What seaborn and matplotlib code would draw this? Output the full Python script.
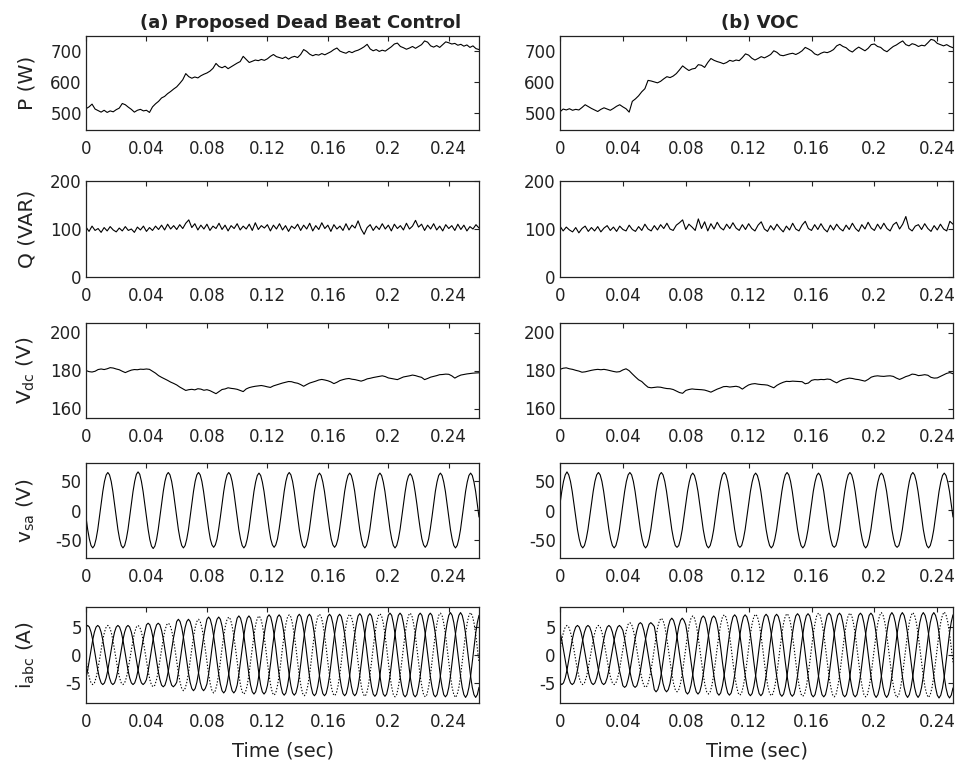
import numpy as np
import matplotlib
matplotlib.use("Agg")
import matplotlib.pyplot as plt
import seaborn as sns

# ---------------------------------------------------------------------------
# Sample steps
# ---------------------------------------------------------------------------
DT_SLOW = 0.002        # P, Q and Vdc traces
DT_WAVE = 1.0 / 900.0  # ac waveforms, 18 samples per 50 Hz cycle

col_titles = ["(a) Proposed Dead Beat Control", "(b) VOC"]
x_limits = [0.26, 0.25]
x_ticks = [0, 0.04, 0.08, 0.12, 0.16, 0.2, 0.24]
x_tick_labels = ["0", "0.04", "0.08", "0.12", "0.16", "0.2", "0.24"]
y_labels = ["P (W)", "Q (VAR)", r"V$_{\mathrm{dc}}$ (V)", r"v$_{\mathrm{sa}}$ (V)",
            r"i$_{\mathrm{abc}}$ (A)"]
y_ticks = [[500, 600, 700], [0, 100, 200], [160, 180, 200], [-50, 0, 50], [-5, 0, 5]]
y_limits = [(445, 750), (0, 200), (155, 205), (-80, 80), (-8.6, 8.6)]

# ---------------------------------------------------------------------------
# (a) dead-beat control
# ---------------------------------------------------------------------------
p_dbc = [514, 520, 529, 513, 508, 503, 509, 502, 507, 504,
         511, 516, 531, 527, 519, 512, 503, 509, 512, 507,
         509, 502, 520, 530, 538, 549, 554, 563, 570, 578,
         585, 596, 608, 628, 618, 613, 617, 614, 621, 626,
         630, 636, 645, 661, 651, 647, 652, 644, 650, 656,
         662, 667, 684, 674, 664, 668, 672, 670, 674, 671,
         676, 684, 690, 683, 680, 677, 682, 675, 681, 684,
         680, 690, 706, 700, 691, 686, 690, 688, 693, 689,
         694, 699, 706, 711, 701, 697, 694, 700, 696, 701,
         704, 709, 715, 723, 708, 702, 706, 700, 704, 701,
         708, 715, 724, 727, 716, 712, 707, 711, 716, 710,
         716, 722, 734, 730, 718, 714, 719, 713, 722, 731,
         728, 724, 726, 720, 723, 717, 721, 713, 718, 709, 706]

q_dbc = [104, 95, 106, 97, 101, 93, 103, 96, 105, 98,
         94, 102, 96, 105, 97, 100, 93, 104, 98, 106,
         95, 103, 97, 106, 99, 108, 98, 110, 100, 107,
         99, 109, 101, 112, 119, 103, 111, 98, 108, 100,
         110, 97, 106, 101, 112, 99, 108, 96, 107, 101,
         111, 98, 106, 100, 110, 97, 113, 99, 107, 102,
         109, 96, 108, 100, 111, 98, 107, 95, 106, 101,
         110, 97, 108, 100, 112, 96, 107, 99, 113, 101,
         108, 95, 109, 100, 106, 97, 111, 98, 108, 102,
         117, 100, 89, 103, 109, 97, 106, 99, 111, 100,
         108, 96, 110, 101, 107, 98, 112, 100, 106, 118,
         104, 110, 97, 108, 100, 111, 98, 106, 96, 109,
         101, 107, 97, 110, 99, 108, 96, 105, 100, 109, 102]

vdc_dbc = [180.0, 179.4, 179.2, 179.6, 180.5, 180.8, 180.5, 180.9, 181.5, 181.3,
           180.8, 180.4, 179.6, 178.9, 179.6, 180.2, 180.5, 180.4, 180.7, 180.6,
           180.8, 180.6, 179.6, 178.6, 177.3, 176.4, 175.6, 174.8, 173.9, 173.2,
           172.4, 171.3, 170.4, 169.5, 169.9, 170.1, 169.8, 170.4, 170.2, 169.6,
           169.9, 169.4, 168.6, 167.8, 168.9, 170.0, 170.3, 170.9, 170.6, 170.4,
           170.1, 169.5, 168.9, 170.3, 171.0, 171.4, 171.7, 171.9, 172.1, 171.8,
           171.4, 171.1, 171.9, 172.4, 172.9, 173.4, 173.8, 174.2, 174.1, 173.6,
           173.3, 172.6, 171.7, 172.6, 173.4, 173.9, 174.4, 175.0, 175.3, 175.0,
           174.6, 174.0, 173.1, 173.8, 174.7, 175.2, 175.6, 175.8, 175.4, 175.2,
           174.8, 174.4, 174.9, 175.6, 175.9, 176.3, 176.6, 176.9, 177.2, 176.8,
           176.1, 175.8, 175.5, 175.2, 175.9, 176.6, 176.9, 177.2, 177.6, 177.3,
           176.8, 176.4, 175.2, 175.8, 176.5, 176.9, 177.3, 177.8, 177.9, 178.1,
           178.0, 177.2, 176.0, 176.9, 177.6, 177.9, 178.2, 178.4, 178.6, 178.7, 178.8]

vsa_dbc = [
    -11, -32, -48, -59, -63, -59, -48, -32, -11, 11, 32, 49, 60, 64, 60, 49, 32, 11,
    -11, -32, -48, -59, -63, -59, -48, -32, -11, 11, 32, 49, 61, 65, 61, 49, 32, 11,
    -11, -32, -49, -60, -64, -60, -49, -32, -11, 11, 32, 49, 60, 64, 60, 49, 32, 11,
    -11, -32, -48, -59, -63, -59, -48, -32, -11, 11, 32, 49, 60, 64, 60, 49, 32, 11,
    -11, -31, -48, -58, -62, -58, -48, -31, -11, 11, 32, 49, 60, 64, 60, 49, 32, 11,
    -11, -32, -48, -59, -63, -59, -48, -32, -11, 11, 32, 48, 59, 63, 59, 48, 32, 11,
    -11, -31, -48, -58, -62, -58, -48, -31, -11, 11, 32, 49, 60, 64, 60, 49, 32, 11,
    -11, -32, -48, -59, -63, -59, -48, -32, -11, 11, 32, 48, 59, 63, 59, 48, 32, 11,
    -11, -31, -48, -58, -62, -58, -48, -31, -11, 11, 32, 48, 59, 63, 59, 48, 32, 11,
    -11, -32, -48, -59, -63, -59, -48, -32, -11, 11, 32, 48, 59, 63, 59, 48, 32, 11,
    -11, -32, -48, -59, -63, -59, -48, -32, -11, 11, 31, 48, 58, 62, 58, 48, 31, 11,
    -11, -31, -48, -58, -62, -58, -48, -31, -11, 11, 32, 48, 59, 63, 59, 48, 32, 11,
    -11, -32, -48, -59, -63, -59, -48, -32, -11, 11, 32, 48, 59, 63, 59, 48, 32, 11,
    -11]

ia_dbc = [
    -0.9, -2.7, -4.1, -5.0, -5.3, -5.0, -4.1, -2.7, -0.9, 0.9, 2.7, 4.1, 5.0, 5.3, 5.0, 4.1, 2.7, 0.9,
    -0.9, -2.7, -4.1, -5.0, -5.3, -5.0, -4.1, -2.7, -0.9, 0.9, 2.7, 4.1, 5.0, 5.3, 5.0, 4.1, 2.7, 0.9,
    -1.0, -2.9, -4.4, -5.4, -5.7, -5.4, -4.4, -2.9, -1.0, 1.0, 2.9, 4.4, 5.4, 5.7, 5.4, 4.4, 2.9, 1.0,
    -1.1, -3.2, -4.9, -6.0, -6.4, -6.0, -4.9, -3.2, -1.1, 1.1, 3.2, 4.9, 6.0, 6.4, 6.0, 4.9, 3.2, 1.1,
    -1.2, -3.4, -5.2, -6.4, -6.8, -6.4, -5.2, -3.4, -1.2, 1.2, 3.4, 5.2, 6.4, 6.8, 6.4, 5.2, 3.4, 1.2,
    -1.2, -3.5, -5.4, -6.6, -7.0, -6.6, -5.4, -3.5, -1.2, 1.2, 3.5, 5.4, 6.6, 7.0, 6.6, 5.4, 3.5, 1.2,
    -1.3, -3.6, -5.5, -6.8, -7.2, -6.8, -5.5, -3.6, -1.3, 1.3, 3.6, 5.5, 6.8, 7.2, 6.8, 5.5, 3.6, 1.3,
    -1.3, -3.7, -5.6, -6.9, -7.3, -6.9, -5.6, -3.7, -1.3, 1.3, 3.7, 5.6, 6.9, 7.3, 6.9, 5.6, 3.7, 1.3,
    -1.3, -3.7, -5.6, -6.9, -7.3, -6.9, -5.6, -3.7, -1.3, 1.3, 3.7, 5.6, 6.9, 7.3, 6.9, 5.6, 3.7, 1.3,
    -1.3, -3.7, -5.7, -7.0, -7.4, -7.0, -5.7, -3.7, -1.3, 1.3, 3.7, 5.7, 7.0, 7.4, 7.0, 5.7, 3.7, 1.3,
    -1.3, -3.8, -5.7, -7.1, -7.5, -7.1, -5.7, -3.8, -1.3, 1.3, 3.8, 5.7, 7.1, 7.5, 7.1, 5.7, 3.8, 1.3,
    -1.3, -3.8, -5.7, -7.1, -7.5, -7.1, -5.7, -3.8, -1.3, 1.3, 3.8, 5.7, 7.1, 7.5, 7.1, 5.7, 3.8, 1.3,
    -1.3, -3.8, -5.8, -7.1, -7.6, -7.1, -5.8, -3.8, -1.3, 1.3, 3.8, 5.8, 7.1, 7.6, 7.1, 5.8, 3.8, 1.3,
    -1.3]

ib_dbc = [
    5.0, 5.3, 5.0, 4.1, 2.7, 0.9, -0.9, -2.7, -4.1, -5.0, -5.3, -5.0, -4.1, -2.7, -0.9, 0.9, 2.7, 4.1,
    5.0, 5.3, 5.0, 4.1, 2.7, 0.9, -0.9, -2.7, -4.1, -5.0, -5.3, -5.0, -4.1, -2.7, -0.9, 0.9, 2.7, 4.1,
    5.4, 5.7, 5.4, 4.4, 2.9, 1.0, -1.0, -2.9, -4.4, -5.4, -5.7, -5.4, -4.4, -2.9, -1.0, 1.0, 2.9, 4.4,
    6.0, 6.4, 6.0, 4.9, 3.2, 1.1, -1.1, -3.2, -4.9, -6.0, -6.4, -6.0, -4.9, -3.2, -1.1, 1.1, 3.2, 4.9,
    6.4, 6.8, 6.4, 5.2, 3.4, 1.2, -1.2, -3.4, -5.2, -6.4, -6.8, -6.4, -5.2, -3.4, -1.2, 1.2, 3.4, 5.2,
    6.6, 7.0, 6.6, 5.4, 3.5, 1.2, -1.2, -3.5, -5.4, -6.6, -7.0, -6.6, -5.4, -3.5, -1.2, 1.2, 3.5, 5.4,
    6.8, 7.2, 6.8, 5.5, 3.6, 1.3, -1.3, -3.6, -5.5, -6.8, -7.2, -6.8, -5.5, -3.6, -1.3, 1.3, 3.6, 5.5,
    6.9, 7.3, 6.9, 5.6, 3.7, 1.3, -1.3, -3.7, -5.6, -6.9, -7.3, -6.9, -5.6, -3.7, -1.3, 1.3, 3.7, 5.6,
    6.9, 7.3, 6.9, 5.6, 3.7, 1.3, -1.3, -3.7, -5.6, -6.9, -7.3, -6.9, -5.6, -3.7, -1.3, 1.3, 3.7, 5.6,
    7.0, 7.4, 7.0, 5.7, 3.7, 1.3, -1.3, -3.7, -5.7, -7.0, -7.4, -7.0, -5.7, -3.7, -1.3, 1.3, 3.7, 5.7,
    7.1, 7.5, 7.1, 5.7, 3.8, 1.3, -1.3, -3.8, -5.7, -7.1, -7.5, -7.1, -5.7, -3.8, -1.3, 1.3, 3.8, 5.7,
    7.1, 7.5, 7.1, 5.7, 3.8, 1.3, -1.3, -3.8, -5.7, -7.1, -7.5, -7.1, -5.7, -3.8, -1.3, 1.3, 3.8, 5.7,
    7.1, 7.6, 7.1, 5.8, 3.8, 1.3, -1.3, -3.8, -5.8, -7.1, -7.6, -7.1, -5.8, -3.8, -1.3, 1.3, 3.8, 5.8,
    7.1]

ic_dbc = [
    -4.1, -2.7, -0.9, 0.9, 2.7, 4.1, 5.0, 5.3, 5.0, 4.1, 2.7, 0.9, -0.9, -2.7, -4.1, -5.0, -5.3, -5.0,
    -4.1, -2.7, -0.9, 0.9, 2.7, 4.1, 5.0, 5.3, 5.0, 4.1, 2.7, 0.9, -0.9, -2.7, -4.1, -5.0, -5.3, -5.0,
    -4.4, -2.9, -1.0, 1.0, 2.9, 4.4, 5.4, 5.7, 5.4, 4.4, 2.9, 1.0, -1.0, -2.9, -4.4, -5.4, -5.7, -5.4,
    -4.9, -3.2, -1.1, 1.1, 3.2, 4.9, 6.0, 6.4, 6.0, 4.9, 3.2, 1.1, -1.1, -3.2, -4.9, -6.0, -6.4, -6.0,
    -5.2, -3.4, -1.2, 1.2, 3.4, 5.2, 6.4, 6.8, 6.4, 5.2, 3.4, 1.2, -1.2, -3.4, -5.2, -6.4, -6.8, -6.4,
    -5.4, -3.5, -1.2, 1.2, 3.5, 5.4, 6.6, 7.0, 6.6, 5.4, 3.5, 1.2, -1.2, -3.5, -5.4, -6.6, -7.0, -6.6,
    -5.5, -3.6, -1.3, 1.3, 3.6, 5.5, 6.8, 7.2, 6.8, 5.5, 3.6, 1.3, -1.3, -3.6, -5.5, -6.8, -7.2, -6.8,
    -5.6, -3.7, -1.3, 1.3, 3.7, 5.6, 6.9, 7.3, 6.9, 5.6, 3.7, 1.3, -1.3, -3.7, -5.6, -6.9, -7.3, -6.9,
    -5.6, -3.7, -1.3, 1.3, 3.7, 5.6, 6.9, 7.3, 6.9, 5.6, 3.7, 1.3, -1.3, -3.7, -5.6, -6.9, -7.3, -6.9,
    -5.7, -3.7, -1.3, 1.3, 3.7, 5.7, 7.0, 7.4, 7.0, 5.7, 3.7, 1.3, -1.3, -3.7, -5.7, -7.0, -7.4, -7.0,
    -5.7, -3.8, -1.3, 1.3, 3.8, 5.7, 7.1, 7.5, 7.1, 5.7, 3.8, 1.3, -1.3, -3.8, -5.7, -7.1, -7.5, -7.1,
    -5.7, -3.8, -1.3, 1.3, 3.8, 5.7, 7.1, 7.5, 7.1, 5.7, 3.8, 1.3, -1.3, -3.8, -5.7, -7.1, -7.5, -7.1,
    -5.8, -3.8, -1.3, 1.3, 3.8, 5.8, 7.1, 7.6, 7.1, 5.8, 3.8, 1.3, -1.3, -3.8, -5.8, -7.1, -7.6, -7.1,
    -5.8]

# ---------------------------------------------------------------------------
# (b) voltage oriented control
# ---------------------------------------------------------------------------
p_voc = [504, 513, 510, 514, 509, 512, 510, 518, 527, 521,
         515, 510, 505, 512, 517, 513, 509, 515, 522, 527,
         520, 514, 503, 538, 546, 556, 569, 579, 606, 604,
         601, 598, 603, 611, 618, 615, 620, 628, 640, 653,
         645, 638, 643, 645, 657, 655, 648, 664, 677, 671,
         667, 664, 660, 664, 671, 668, 672, 670, 680, 692,
         688, 678, 672, 677, 683, 679, 684, 690, 702, 697,
         688, 686, 689, 692, 694, 690, 695, 702, 713, 708,
         702, 692, 688, 694, 698, 696, 700, 706, 718, 723,
         716, 712, 703, 698, 707, 714, 708, 702, 710, 722,
         724, 716, 713, 704, 699, 708, 716, 721, 728, 734,
         722, 718, 725, 722, 716, 720, 718, 728, 739, 736,
         726, 722, 718, 722, 716, 712]

q_voc = [106, 96, 104, 98, 94, 103, 92, 101, 106, 95,
         103, 96, 105, 94, 102, 107, 97, 104, 95, 106,
         99, 96, 108, 99, 95, 105, 97, 110, 100, 96,
         107, 98, 109, 101, 112, 100, 97, 108, 113, 119,
         99, 110, 104, 97, 121, 101, 115, 96, 111, 100,
         114, 103, 98, 110, 101, 113, 102, 97, 109, 99,
         111, 101, 96, 108, 115, 100, 95, 107, 98, 110,
         101, 94, 106, 98, 112, 100, 96, 108, 116, 101,
         97, 109, 99, 111, 100, 94, 108, 98, 110, 101,
         96, 108, 99, 112, 101, 95, 109, 100, 114, 102,
         97, 110, 100, 112, 101, 96, 109, 114, 100, 110,
         126, 101, 96, 106, 109, 99, 111, 101, 95, 107,
         98, 110, 100, 96, 116, 110]

vdc_voc = [180.6, 181.2, 181.4, 180.9, 180.6, 180.1, 179.7, 179.1, 179.3, 179.7,
           180.1, 180.4, 180.6, 180.4, 180.6, 180.3, 179.9, 179.5, 179.2, 179.4,
           180.3, 180.9, 179.9, 178.2, 176.6, 175.1, 174.2, 172.6, 171.2, 170.9,
           171.1, 171.3, 171.2, 170.8, 170.5, 170.4, 170.0, 169.2, 168.4, 168.0,
           169.5, 170.0, 170.3, 170.1, 170.0, 169.9, 169.7, 169.2, 168.6, 169.4,
           170.2, 170.8, 171.5, 171.6, 171.3, 171.5, 171.7, 171.3, 170.2, 171.4,
           172.4, 172.9, 173.1, 172.8, 172.6, 172.5, 172.3, 171.6, 170.9, 172.2,
           173.1, 173.8, 174.3, 174.2, 174.4, 174.3, 174.2, 174.1, 173.0, 173.4,
           174.8, 175.2, 175.1, 175.3, 175.2, 175.5, 175.3, 174.3, 173.5, 174.5,
           175.2, 175.6, 176.0, 175.8, 175.4, 175.2, 174.8, 174.4, 175.3, 176.5,
           177.0, 177.2, 177.0, 176.9, 177.1, 177.2, 176.9, 176.0, 175.3, 176.0,
           176.8, 177.3, 178.1, 177.9, 177.3, 177.5, 177.8, 177.5, 176.4, 176.0,
           176.1, 176.9, 177.7, 178.5, 178.9, 178.3]

vsa_voc = [
    11, 32, 49, 60, 65, 60, 49, 32, 11, -11, -32, -48, -59, -63, -59, -48, -32, -11,
    11, 32, 49, 60, 64, 60, 49, 32, 11, -11, -32, -48, -59, -63, -59, -48, -32, -11,
    11, 32, 49, 60, 64, 60, 49, 32, 11, -11, -32, -48, -59, -63, -59, -48, -32, -11,
    11, 32, 49, 60, 64, 60, 49, 32, 11, -11, -32, -48, -59, -62, -59, -48, -32, -11,
    11, 32, 48, 59, 63, 59, 48, 32, 11, -11, -32, -48, -59, -63, -59, -48, -32, -11,
    11, 32, 49, 60, 64, 60, 49, 32, 11, -11, -32, -48, -59, -62, -59, -48, -32, -11,
    11, 32, 48, 59, 63, 59, 48, 32, 11, -11, -32, -48, -59, -63, -59, -48, -32, -11,
    11, 32, 49, 60, 64, 60, 49, 32, 11, -11, -32, -48, -59, -63, -59, -48, -32, -11,
    11, 32, 48, 59, 63, 59, 48, 32, 11, -11, -32, -48, -59, -62, -59, -48, -32, -11,
    11, 32, 49, 60, 64, 60, 49, 32, 11, -11, -32, -48, -59, -63, -59, -48, -32, -11,
    11, 32, 48, 59, 63, 59, 48, 32, 11, -11, -32, -48, -59, -62, -59, -48, -32, -11,
    11, 32, 49, 60, 64, 60, 49, 32, 11, -11, -32, -48, -59, -63, -59, -48, -32, -11,
    11, 32, 48, 59, 63, 59, 48, 32, 11, -11]

ia_voc = [
    0.9, 2.7, 4.1, 5.0, 5.3, 5.0, 4.1, 2.7, 0.9, -0.9, -2.7, -4.1, -5.0, -5.3, -5.0, -4.1, -2.7, -0.9,
    0.9, 2.7, 4.1, 5.0, 5.3, 5.0, 4.1, 2.7, 0.9, -0.9, -2.7, -4.1, -5.0, -5.3, -5.0, -4.1, -2.7, -0.9,
    1.0, 2.9, 4.4, 5.5, 5.8, 5.5, 4.4, 2.9, 1.0, -1.0, -2.9, -4.4, -5.5, -5.8, -5.5, -4.4, -2.9, -1.0,
    1.1, 3.3, 5.1, 6.2, 6.6, 6.2, 5.1, 3.3, 1.1, -1.1, -3.3, -5.1, -6.2, -6.6, -6.2, -5.1, -3.3, -1.1,
    1.2, 3.5, 5.4, 6.6, 7.0, 6.6, 5.4, 3.5, 1.2, -1.2, -3.5, -5.4, -6.6, -7.0, -6.6, -5.4, -3.5, -1.2,
    1.3, 3.6, 5.5, 6.8, 7.2, 6.8, 5.5, 3.6, 1.3, -1.3, -3.6, -5.5, -6.8, -7.2, -6.8, -5.5, -3.6, -1.3,
    1.3, 3.7, 5.6, 6.9, 7.3, 6.9, 5.6, 3.7, 1.3, -1.3, -3.7, -5.6, -6.9, -7.3, -6.9, -5.6, -3.7, -1.3,
    1.3, 3.7, 5.7, 7.0, 7.4, 7.0, 5.7, 3.7, 1.3, -1.3, -3.7, -5.7, -7.0, -7.4, -7.0, -5.7, -3.7, -1.3,
    1.3, 3.8, 5.7, 7.1, 7.5, 7.1, 5.7, 3.8, 1.3, -1.3, -3.8, -5.7, -7.1, -7.5, -7.1, -5.7, -3.8, -1.3,
    1.3, 3.8, 5.7, 7.1, 7.5, 7.1, 5.7, 3.8, 1.3, -1.3, -3.8, -5.7, -7.1, -7.5, -7.1, -5.7, -3.8, -1.3,
    1.3, 3.8, 5.8, 7.1, 7.6, 7.1, 5.8, 3.8, 1.3, -1.3, -3.8, -5.8, -7.1, -7.6, -7.1, -5.8, -3.8, -1.3,
    1.3, 3.8, 5.8, 7.1, 7.6, 7.1, 5.8, 3.8, 1.3, -1.3, -3.8, -5.8, -7.1, -7.6, -7.1, -5.8, -3.8, -1.3,
    1.3, 3.9, 5.9, 7.2, 7.7, 7.2, 5.9, 3.9, 1.3, -1.3]

ib_voc = [
    -5.0, -5.3, -5.0, -4.1, -2.7, -0.9, 0.9, 2.7, 4.1, 5.0, 5.3, 5.0, 4.1, 2.7, 0.9, -0.9, -2.7, -4.1,
    -5.0, -5.3, -5.0, -4.1, -2.7, -0.9, 0.9, 2.7, 4.1, 5.0, 5.3, 5.0, 4.1, 2.7, 0.9, -0.9, -2.7, -4.1,
    -5.5, -5.8, -5.5, -4.4, -2.9, -1.0, 1.0, 2.9, 4.4, 5.5, 5.8, 5.5, 4.4, 2.9, 1.0, -1.0, -2.9, -4.4,
    -6.2, -6.6, -6.2, -5.1, -3.3, -1.1, 1.1, 3.3, 5.1, 6.2, 6.6, 6.2, 5.1, 3.3, 1.1, -1.1, -3.3, -5.1,
    -6.6, -7.0, -6.6, -5.4, -3.5, -1.2, 1.2, 3.5, 5.4, 6.6, 7.0, 6.6, 5.4, 3.5, 1.2, -1.2, -3.5, -5.4,
    -6.8, -7.2, -6.8, -5.5, -3.6, -1.3, 1.3, 3.6, 5.5, 6.8, 7.2, 6.8, 5.5, 3.6, 1.3, -1.3, -3.6, -5.5,
    -6.9, -7.3, -6.9, -5.6, -3.7, -1.3, 1.3, 3.7, 5.6, 6.9, 7.3, 6.9, 5.6, 3.7, 1.3, -1.3, -3.7, -5.6,
    -7.0, -7.4, -7.0, -5.7, -3.7, -1.3, 1.3, 3.7, 5.7, 7.0, 7.4, 7.0, 5.7, 3.7, 1.3, -1.3, -3.7, -5.7,
    -7.1, -7.5, -7.1, -5.7, -3.8, -1.3, 1.3, 3.8, 5.7, 7.1, 7.5, 7.1, 5.7, 3.8, 1.3, -1.3, -3.8, -5.7,
    -7.1, -7.5, -7.1, -5.7, -3.8, -1.3, 1.3, 3.8, 5.7, 7.1, 7.5, 7.1, 5.7, 3.8, 1.3, -1.3, -3.8, -5.7,
    -7.1, -7.6, -7.1, -5.8, -3.8, -1.3, 1.3, 3.8, 5.8, 7.1, 7.6, 7.1, 5.8, 3.8, 1.3, -1.3, -3.8, -5.8,
    -7.1, -7.6, -7.1, -5.8, -3.8, -1.3, 1.3, 3.8, 5.8, 7.1, 7.6, 7.1, 5.8, 3.8, 1.3, -1.3, -3.8, -5.8,
    -7.2, -7.7, -7.2, -5.9, -3.9, -1.3, 1.3, 3.9, 5.9, 7.2]

ic_voc = [
    4.1, 2.7, 0.9, -0.9, -2.7, -4.1, -5.0, -5.3, -5.0, -4.1, -2.7, -0.9, 0.9, 2.7, 4.1, 5.0, 5.3, 5.0,
    4.1, 2.7, 0.9, -0.9, -2.7, -4.1, -5.0, -5.3, -5.0, -4.1, -2.7, -0.9, 0.9, 2.7, 4.1, 5.0, 5.3, 5.0,
    4.4, 2.9, 1.0, -1.0, -2.9, -4.4, -5.5, -5.8, -5.5, -4.4, -2.9, -1.0, 1.0, 2.9, 4.4, 5.5, 5.8, 5.5,
    5.1, 3.3, 1.1, -1.1, -3.3, -5.1, -6.2, -6.6, -6.2, -5.1, -3.3, -1.1, 1.1, 3.3, 5.1, 6.2, 6.6, 6.2,
    5.4, 3.5, 1.2, -1.2, -3.5, -5.4, -6.6, -7.0, -6.6, -5.4, -3.5, -1.2, 1.2, 3.5, 5.4, 6.6, 7.0, 6.6,
    5.5, 3.6, 1.3, -1.3, -3.6, -5.5, -6.8, -7.2, -6.8, -5.5, -3.6, -1.3, 1.3, 3.6, 5.5, 6.8, 7.2, 6.8,
    5.6, 3.7, 1.3, -1.3, -3.7, -5.6, -6.9, -7.3, -6.9, -5.6, -3.7, -1.3, 1.3, 3.7, 5.6, 6.9, 7.3, 6.9,
    5.7, 3.7, 1.3, -1.3, -3.7, -5.7, -7.0, -7.4, -7.0, -5.7, -3.7, -1.3, 1.3, 3.7, 5.7, 7.0, 7.4, 7.0,
    5.7, 3.8, 1.3, -1.3, -3.8, -5.7, -7.1, -7.5, -7.1, -5.7, -3.8, -1.3, 1.3, 3.8, 5.7, 7.1, 7.5, 7.1,
    5.7, 3.8, 1.3, -1.3, -3.8, -5.7, -7.1, -7.5, -7.1, -5.7, -3.8, -1.3, 1.3, 3.8, 5.7, 7.1, 7.5, 7.1,
    5.8, 3.8, 1.3, -1.3, -3.8, -5.8, -7.1, -7.6, -7.1, -5.8, -3.8, -1.3, 1.3, 3.8, 5.8, 7.1, 7.6, 7.1,
    5.8, 3.8, 1.3, -1.3, -3.8, -5.8, -7.1, -7.6, -7.1, -5.8, -3.8, -1.3, 1.3, 3.8, 5.8, 7.1, 7.6, 7.1,
    5.9, 3.9, 1.3, -1.3, -3.9, -5.9, -7.2, -7.7, -7.2, -5.9]

# ---------------------------------------------------------------------------
# Styling
# ---------------------------------------------------------------------------
sns.set_theme(style="white")
plt.rcParams.update({
    "font.family": ["DejaVu Sans"],
    "mathtext.fontset": "dejavusans",
    "axes.edgecolor": "#222222",
    "axes.linewidth": 0.9,
    "xtick.direction": "in",
    "ytick.direction": "in",
    "xtick.top": True,
    "ytick.right": True,
    "xtick.color": "#222222",
    "ytick.color": "#222222",
    "text.color": "#222222",
    "axes.labelcolor": "#222222",
})

LINE_KW = dict(color="black", linewidth=0.8, estimator=None, sort=False)


def trace(ax, values, dt, **kw):
    y = np.asarray(values, dtype=float)
    t = np.arange(len(y)) * dt
    sns.lineplot(x=t, y=y, ax=ax, **LINE_KW, **kw)


fig = plt.figure(figsize=(9.56, 7.65), dpi=100)
W, H = 956.0, 765.0
rows_px = [(36, 130), (181, 277), (323, 418), (463, 558), (607, 703)]
cols_px = [(86, 479), (560, 953)]
title_x = [0.547, 0.509]

columns = [
    dict(p=p_dbc, q=q_dbc, vdc=vdc_dbc, vsa=vsa_dbc, ia=ia_dbc, ib=ib_dbc, ic=ic_dbc),
    dict(p=p_voc, q=q_voc, vdc=vdc_voc, vsa=vsa_voc, ia=ia_voc, ib=ib_voc, ic=ic_voc),
]

for c, (x0, x1) in enumerate(cols_px):
    data = columns[c]
    for r, (y0, y1) in enumerate(rows_px):
        ax = fig.add_axes([x0 / W, 1 - y1 / H, (x1 - x0) / W, (y1 - y0) / H])
        if r == 0:
            trace(ax, data["p"], DT_SLOW)
        elif r == 1:
            trace(ax, data["q"], DT_SLOW)
        elif r == 2:
            trace(ax, data["vdc"], DT_SLOW)
        elif r == 3:
            trace(ax, data["vsa"], DT_WAVE)
        else:
            trace(ax, data["ib"], DT_WAVE)
            trace(ax, data["ic"], DT_WAVE)
            trace(ax, data["ia"], DT_WAVE, linestyle=(0, (1.2, 1.6)))

        ax.set_xlim(0, x_limits[c])
        ax.set_ylim(*y_limits[r])
        ax.set_xticks(x_ticks)
        ax.set_xticklabels(x_tick_labels)
        ax.set_yticks(y_ticks[r])
        ax.set_yticklabels([str(v) for v in y_ticks[r]])
        ax.tick_params(axis="both", length=3.5, width=0.8, labelsize=12)
        ax.tick_params(axis="x", pad=7)
        ax.tick_params(axis="y", pad=3)
        for s in ax.spines.values():
            s.set_visible(True)
        ax.set_xlabel("")
        ax.set_ylabel("")
        if c == 0:
            ax.set_ylabel(y_labels[r], fontsize=14.5)
            ax.yaxis.set_label_coords(-0.125, 0.5)
        if r == 0:
            ax.set_title(col_titles[c], fontsize=13, fontweight="bold", pad=6,
                         x=title_x[c])
        if r == len(rows_px) - 1:
            ax.set_xlabel("Time (sec)", fontsize=14, labelpad=8)

fig.savefig("out.png", dpi=100)
